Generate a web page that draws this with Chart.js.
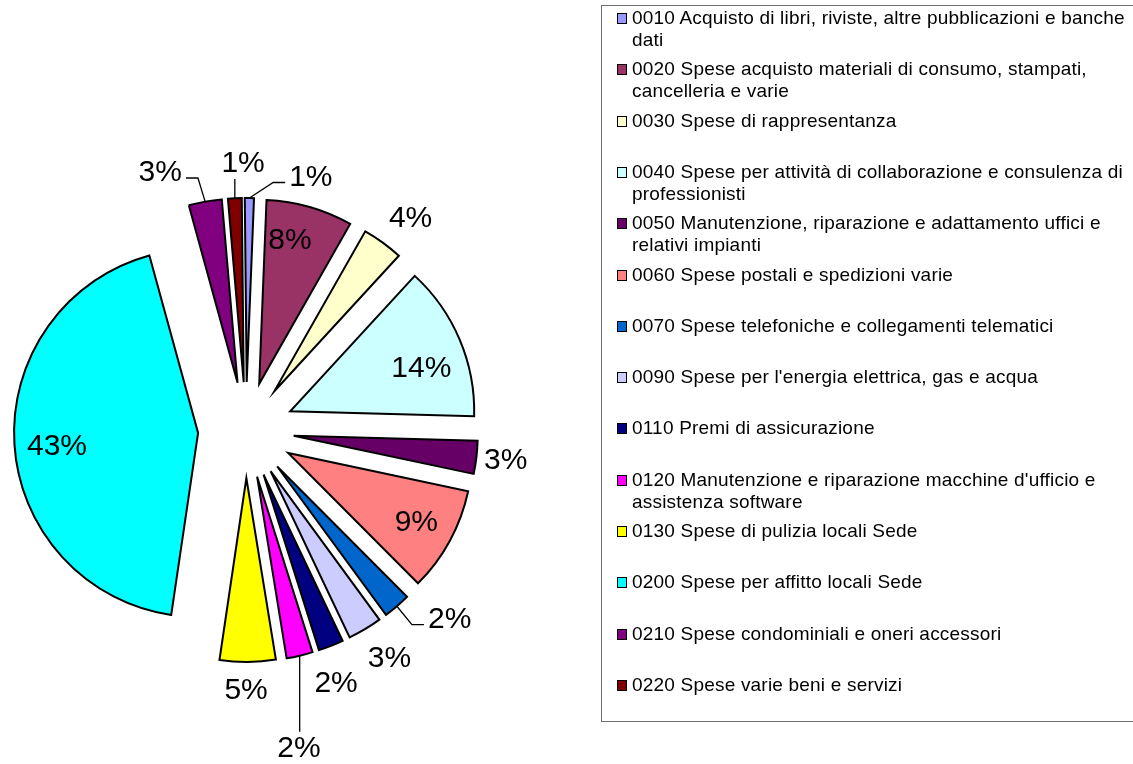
<!DOCTYPE html>
<html>
<head>
<meta charset="utf-8">
<script src="https://cdn.jsdelivr.net/npm/chart.js"></script>
<style>
  html, body { margin:0; padding:0; background:#fff; }
  body { width:1133px; height:764px; position:relative; overflow:hidden; font-family:"Liberation Sans", Arial, sans-serif; }
  #pie { position:absolute; left:0; top:0; }
  #legendBox { position:absolute; left:601px; top:5px; width:560px; height:715px; border:1px solid #707070; border-right:none; }
  .item { position:absolute; left:617px; white-space:nowrap; }
  .sw { position:absolute; left:0; top:6px; width:10px; height:11px; box-sizing:border-box; border:1.5px solid #000; }
  .txt { position:absolute; left:15px; top:0; font-size:19px; letter-spacing:0.2px; line-height:22px; color:#000; }
</style>
</head>
<body>
<canvas id="pie" width="1133" height="764"></canvas>
<div id="legendBox"></div>
<div id="legend"></div>
<script>
// =================== data ===================
const categories = [
  ["0010 Acquisto di libri, riviste, altre pubblicazioni e banche", "dati"],
  ["0020 Spese acquisto materiali di consumo, stampati,", "cancelleria e varie"],
  ["0030 Spese di rappresentanza"],
  ["0040 Spese per attività di collaborazione e consulenza di", "professionisti"],
  ["0050 Manutenzione, riparazione e adattamento uffici e", "relativi impianti"],
  ["0060 Spese postali e spedizioni varie"],
  ["0070 Spese telefoniche e collegamenti telematici"],
  ["0090 Spese per l'energia elettrica, gas e acqua"],
  ["0110 Premi di assicurazione"],
  ["0120 Manutenzione e riparazione macchine d'ufficio e", "assistenza software"],
  ["0130 Spese di pulizia locali Sede"],
  ["0200 Spese per affitto locali Sede"],
  ["0210 Spese condominiali e oneri accessori"],
  ["0220 Spese varie beni e servizi"]
];
// share of total, %
const shares = [0.8, 7.6, 3.6, 13.6, 2.9, 9.2, 2.4, 3.0, 2.2, 2.3, 4.9, 43.4, 2.9, 1.2];

const colors = ['#9999FF','#993366','#FFFFCC','#CCFFFF','#660066','#FF8080','#0066CC',
                '#CCCCFF','#000080','#FF00FF','#FFFF00','#00FFFF','#800080','#800000'];

// label placement: distance (x radius) and turn (deg) from slice bisector, leader kind
const labelDist = [1.17, 0.80, 1.20, 0.75, 1.16, 0.79, 1.25, 1.20, 1.20, 1.49, 1.15, 0.77, 1.22, 1.19];
const labelTurn = [16.5, -3.9, 2, 4.7, -0.2, -0.4, -8, -1.7, 2.3, 4.6, 0.5, -1.8, -10, 2.6];
const leaderKind = ['h', '', '', '', '', '', 'h', '', '', 'v', '', '', 'h', 'v'];

const EXPLODE = 48;   // px every slice is pulled out along its bisector
const total = shares.reduce((a,b)=>a+b,0);

function midOf(arc){
  const p = arc.getProps(['startAngle','endAngle'], true);
  return (p.startAngle+p.endAngle)/2;
}

// draw the library's arcs, each shifted out by the same distance
const explode = {
  id:'explode',
  beforeDatasetDraw(chart, args){
    const ctx = chart.ctx;
    args.meta.data.forEach(arc=>{
      const mid = midOf(arc);
      ctx.save();
      ctx.translate(Math.cos(mid)*EXPLODE, Math.sin(mid)*EXPLODE);
      arc.draw(ctx);
      ctx.restore();
    });
    return false;
  }
};

const pctLabels = {
  id:'pctLabels',
  afterDatasetsDraw(chart){
    const ctx = chart.ctx;
    const meta = chart.getDatasetMeta(0);
    ctx.save();
    ctx.font = '30px "Liberation Sans", Arial, sans-serif';
    ctx.fillStyle = '#000';
    ctx.strokeStyle = '#000';
    ctx.lineWidth = 1.3;
    ctx.textAlign = 'center';
    ctx.textBaseline = 'middle';
    meta.data.forEach((arc,i)=>{
      const p = arc.getProps(['x','y','outerRadius'], true);
      const mid = midOf(arc);
      const ax = p.x + Math.cos(mid)*EXPLODE, ay = p.y + Math.sin(mid)*EXPLODE;
      const a = mid + labelTurn[i]*Math.PI/180;
      const lx = ax + Math.cos(a)*p.outerRadius*labelDist[i];
      const ly = ay + Math.sin(a)*p.outerRadius*labelDist[i];
      const txt = Math.round(shares[i]/total*100)+'%';
      const w = ctx.measureText(txt).width, h = 26;
      ctx.fillText(txt, lx, ly+1);
      if(leaderKind[i]){
        const sx = ax + Math.cos(mid)*p.outerRadius, sy = ay + Math.sin(mid)*p.outerRadius;
        ctx.beginPath();
        ctx.moveTo(sx, sy);
        if(leaderKind[i]==='h'){
          const side = lx > sx ? 1 : -1;
          const ex = lx - side*(w/2+4), ey = ly+6;
          ctx.lineTo(ex - side*12, ey);
          ctx.lineTo(ex, ey);
        } else {
          const dir = ly > sy ? 1 : -1;
          ctx.lineTo(sx, ly - dir*(h/2+3));
        }
        ctx.stroke();
      }
    });
    ctx.restore();
  }
};

new Chart(document.getElementById('pie'), {
  type:'pie',
  data:{
    labels: categories,
    datasets:[{
      data: shares,
      backgroundColor: colors,
      borderColor:'#000',
      borderWidth:2,
      borderJoinStyle:'miter',
      radius:184,
      offset:0,
      hoverOffset:0
    }]
  },
  options:{
    responsive:false,
    animation:false,
    rotation:-0.6,
    layout:{ padding:{ left:0, right:641, top:96, bottom:0 } },
    plugins:{ legend:{display:false}, tooltip:{enabled:false} },
    events:[]
  },
  plugins:[explode, pctLabels]
});

// legend, one slot per category
const legend = document.getElementById('legend');
categories.forEach((lines,i)=>{
  const it = document.createElement('div');
  it.className = 'item';
  it.style.top = (7 + 51.3*i) + 'px';
  it.innerHTML = '<div class="sw" style="background:'+colors[i]+'"></div><div class="txt">'+lines.join('<br>')+'</div>';
  legend.appendChild(it);
});
</script>
</body>
</html>
